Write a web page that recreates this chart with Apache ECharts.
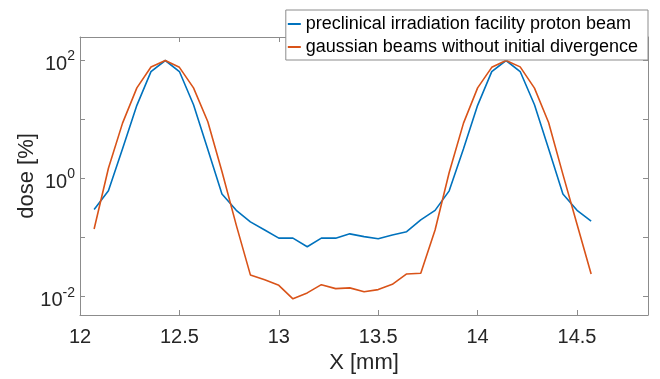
<!DOCTYPE html>
<html>
<head>
<meta charset="utf-8">
<script src="https://cdn.jsdelivr.net/npm/echarts@6/dist/echarts.min.js"></script>
<style>html,body{margin:0;padding:0;background:#fff}#c{width:660px;height:379px}</style>
</head>
<body>
<div id="c"></div>
<script>
// X positions (mm)
const xPositions = [12.071, 12.143, 12.214, 12.286, 12.357, 12.429, 12.5, 12.571, 12.643, 12.714,
  12.786, 12.857, 12.929, 13.0, 13.071, 13.143, 13.214, 13.286, 13.357, 13.429,
  13.5, 13.571, 13.643, 13.714, 13.786, 13.857, 13.929, 14.0, 14.071, 14.143,
  14.214, 14.286, 14.357, 14.429, 14.5, 14.571];
// dose [%], preclinical irradiation facility proton beam
const preclinicalDose = [0.30, 0.62, 3.2, 17.4, 64.8, 100, 65, 17.8, 3.1, 0.55,
  0.29, 0.185, 0.135, 0.098, 0.098, 0.070, 0.098, 0.098, 0.116, 0.104,
  0.096, 0.111, 0.126, 0.20, 0.29, 0.62, 3.2, 17.4, 64.8, 100,
  65, 17.8, 3.2, 0.55, 0.29, 0.19];
// dose [%], gaussian beams without initial divergence
const gaussianDose = [0.14, 1.50, 8.7, 34.4, 77.4, 100, 76.6, 34.4, 9.2, 1.32,
  0.163, 0.0234, 0.0193, 0.0156, 0.0092, 0.0116, 0.0160, 0.0137, 0.0141, 0.0121,
  0.0132, 0.0162, 0.0243, 0.0249, 0.135, 1.27, 8.7, 34.4, 76.6, 100,
  78, 34, 8.9, 1.18, 0.169, 0.0243];
const seriesNames = ['preclinical irradiation facility proton beam', 'gaussian beams without initial divergence'];
const xTicks = [12, 12.5, 13, 13.5, 14, 14.5];
const yTickExponents = [-2, 0, 2];

const axisGray = '#8c8c8c';
const textCol = '#262626';
const FONT = 'Liberation Sans, Arial, sans-serif';

function pairs(xs, ys) { return xs.map((x, i) => [x, ys[i]]); }

const chart = echarts.init(document.getElementById('c'), null, {renderer: 'canvas'});
const xCommon = {
  type: 'value', min: 12, max: 14.857, interval: 0.5,
  axisLine: {show: true, lineStyle: {color: axisGray, width: 1}},
  axisTick: {show: true, inside: true, length: 5, lineStyle: {color: axisGray}},
  splitLine: {show: false}
};
const yCommon = {
  type: 'log', logBase: 10, min: 0.0049, max: 250,
  axisLine: {show: true, lineStyle: {color: axisGray, width: 1}},
  axisTick: {show: true, inside: true, length: 5, lineStyle: {color: axisGray}},
  splitLine: {show: false}
};
chart.setOption({
  animation: false,
  backgroundColor: '#fff',
  grid: {left: 80, right: 12, top: 37, bottom: 57, containLabel: false},
  legend: {
    right: 12, top: 10, orient: 'vertical',
    padding: [5, 10, 4, 2], itemGap: 5,
    itemWidth: 13, itemHeight: 2, icon: 'rect',
    backgroundColor: '#fff', borderColor: axisGray, borderWidth: 1,
    textStyle: {fontFamily: FONT, fontSize: 18, color: '#000', lineHeight: 18},
    data: seriesNames
  },
  xAxis: [
    Object.assign({}, xCommon, {
      position: 'bottom',
      name: 'X [mm]', nameLocation: 'middle', nameGap: 37, nameMoveOverlap: false,
      nameTextStyle: {fontFamily: FONT, fontSize: 22, color: textCol},
      axisLabel: {
        margin: 12, fontFamily: FONT, fontSize: 20, color: textCol,
        formatter: v => xTicks.some(t => Math.abs(t - v) < 1e-6) ? String(v) : ''
      }
    }),
    Object.assign({}, xCommon, {position: 'top', axisLabel: {show: false}})
  ],
  yAxis: [
    Object.assign({}, yCommon, {
      position: 'left',
      name: 'dose [%]', nameLocation: 'middle', nameGap: 42, nameRotate: 90, nameMoveOverlap: false,
      nameTextStyle: {fontFamily: FONT, fontSize: 22, color: textCol},
      axisLabel: {
        margin: 5, fontFamily: FONT, color: textCol,
        formatter: v => {
          const l = Math.log10(v);
          const e = Math.round(l);
          if (Math.abs(l - e) > 1e-6 || yTickExponents.indexOf(e) < 0) return '';
          return '{b|10}{s|' + e + '}';
        },
        rich: {
          b: {fontFamily: FONT, fontSize: 20, color: textCol, padding: [8, 0, 0, 0]},
          s: {fontFamily: FONT, fontSize: 14, color: textCol, padding: [0, 0, 8, 0]}
        }
      }
    }),
    Object.assign({}, yCommon, {position: 'right', axisLabel: {show: false}})
  ],
  series: [
    {
      name: seriesNames[0], type: 'line', xAxisIndex: 0, yAxisIndex: 0,
      data: pairs(xPositions, preclinicalDose),
      symbol: 'none', lineStyle: {color: '#0072BD', width: 1.6}, itemStyle: {color: '#0072BD'}
    },
    {
      name: seriesNames[1], type: 'line', xAxisIndex: 0, yAxisIndex: 0,
      data: pairs(xPositions, gaussianDose),
      symbol: 'none', lineStyle: {color: '#D95319', width: 1.6}, itemStyle: {color: '#D95319'}
    }
  ]
});
</script>
</body>
</html>
